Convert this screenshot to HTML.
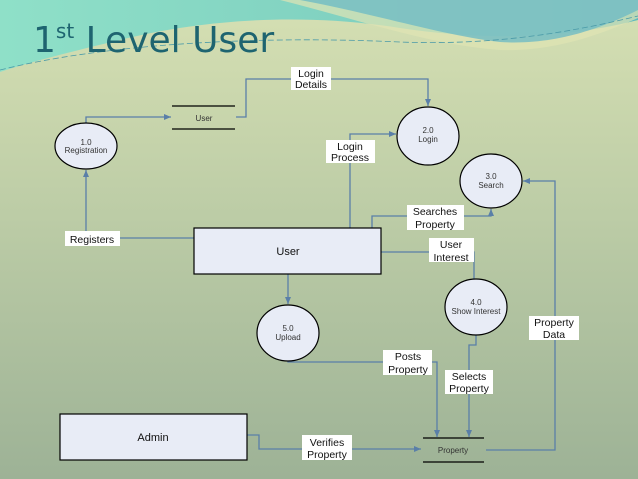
<!DOCTYPE html>
<html><head><meta charset="utf-8"><style>
html,body{margin:0;padding:0;width:638px;height:479px;overflow:hidden}
svg text{font-family:"Liberation Sans",Arial,sans-serif}
</style></head><body>
<svg width="638" height="479" viewBox="0 0 638 479" xmlns="http://www.w3.org/2000/svg">
<defs>
<linearGradient id="bg" x1="0" y1="0" x2="0" y2="1">
<stop offset="0" stop-color="#d6e0b3"/><stop offset="0.45" stop-color="#bccca6"/><stop offset="1" stop-color="#9db296"/>
</linearGradient>
<linearGradient id="sw" x1="0" y1="0" x2="1" y2="0">
<stop offset="0" stop-color="#8fe0c8"/><stop offset="0.6" stop-color="#7fd0c0"/><stop offset="1" stop-color="#5cb8c0"/>
</linearGradient>
<marker id="a" markerWidth="8" markerHeight="8" refX="7" refY="4" orient="auto" markerUnits="userSpaceOnUse"><path d="M0,1 L7,4 L0,7 z" fill="#5a7fa8"/></marker>
</defs>
<rect width="638" height="479" fill="url(#bg)"/>
<path d="M0,0 H638 V20 C560,40 480,40 400,28 C300,12 200,20 120,40 C70,52 30,62 0,72 Z" fill="url(#sw)"/>
<path d="M280,0 C360,20 430,45 500,50 C560,52 610,30 638,18 V0 Z" fill="#e0e4b4" opacity="0.7"/>
<path d="M300,0 C380,15 440,35 500,42 C560,46 610,24 638,10 V0 Z" fill="#6fbcc4" opacity="0.8"/>
<path d="M0,70 C100,45 250,35 400,42 C500,46 580,30 638,16" stroke="#4a9aa8" stroke-width="0.8" fill="none" stroke-dasharray="6,3"/>
<text x="33" y="52" font-size="36" fill="#1e6470" style="font-family:'DejaVu Sans','Liberation Sans',sans-serif">1<tspan font-size="20" dy="-14">st</tspan><tspan dy="14"> Level User</tspan></text>

<g stroke="#5a7fa8" stroke-width="1.3" fill="none">
<polyline points="86,123 86,117 171,117" marker-end="url(#a)"/>
<polyline points="236,117 246,117 246,79 428,79 428,106" marker-end="url(#a)"/>
<polyline points="350,228 350,134 396,134" marker-end="url(#a)"/>
<polyline points="372,228 372,216 491,216 491,209" marker-end="url(#a)"/>
<polyline points="486,450 555,450 555,181 523,181" marker-end="url(#a)"/>
<polyline points="194,238 86,238 86,170" marker-end="url(#a)"/>
<polyline points="381,252 474,252 474,286" marker-end="url(#a)"/>
<polyline points="288,274 288,304" marker-end="url(#a)"/>
<polyline points="288,361 288,362 437,362 437,437" marker-end="url(#a)"/>
<polyline points="476,335 476,345 469,345 469,437" marker-end="url(#a)"/>
<polyline points="247,435 259,435 259,449 421,449" marker-end="url(#a)"/>
</g>

<g stroke="#000" stroke-width="1.2" fill="#e8ecf6">
<ellipse cx="86" cy="146" rx="31" ry="23"/>
<ellipse cx="428" cy="136" rx="31" ry="29"/>
<ellipse cx="491" cy="181" rx="31" ry="27"/>
<ellipse cx="476" cy="307" rx="31" ry="28"/>
<ellipse cx="288" cy="333" rx="31" ry="28"/>
<rect x="194" y="228" width="187" height="46"/>
<rect x="60" y="414" width="187" height="46"/>
<line x1="172" y1="106" x2="235" y2="106"/><line x1="172" y1="129" x2="235" y2="129"/>
<line x1="423" y1="438" x2="484" y2="438"/><line x1="423" y1="462" x2="484" y2="462"/>
</g>

<g font-size="8" fill="#333" text-anchor="middle">
<text x="86" y="145">1.0</text><text x="86" y="153">Registration</text>
<text x="428" y="133">2.0</text><text x="428" y="142">Login</text>
<text x="491" y="179">3.0</text><text x="491" y="188">Search</text>
<text x="476" y="305">4.0</text><text x="476" y="314">Show Interest</text>
<text x="288" y="331">5.0</text><text x="288" y="340">Upload</text>
<text x="204" y="121">User</text>
<text x="453" y="453">Property</text>
</g>
<g font-size="11" fill="#111" text-anchor="middle">
<text x="288" y="255">User</text>
<text x="153" y="441">Admin</text>
</g>

<g fill="#fff">
<rect x="291" y="67" width="40" height="23"/>
<rect x="326" y="140" width="49" height="23"/>
<rect x="407" y="205" width="57" height="25"/>
<rect x="65" y="231" width="55" height="15"/>
<rect x="429" y="238" width="45" height="24"/>
<rect x="529" y="316" width="50" height="24"/>
<rect x="383" y="350" width="49" height="25"/>
<rect x="445" y="370" width="48" height="24"/>
<rect x="302" y="435" width="50" height="25"/>
</g>
<g font-size="10.5" fill="#111" text-anchor="middle">
<text x="311" y="77">Login</text><text x="311" y="88">Details</text>
<text x="350" y="150">Login</text><text x="350" y="161">Process</text>
<text x="435" y="215">Searches</text><text x="435" y="228">Property</text>
<text x="92" y="243">Registers</text>
<text x="451" y="248">User</text><text x="451" y="261">Interest</text>
<text x="554" y="326">Property</text><text x="554" y="338">Data</text>
<text x="408" y="360">Posts</text><text x="408" y="373">Property</text>
<text x="469" y="380">Selects</text><text x="469" y="392">Property</text>
<text x="327" y="446">Verifies</text><text x="327" y="458">Property</text>
</g>
</svg>
</body></html>
